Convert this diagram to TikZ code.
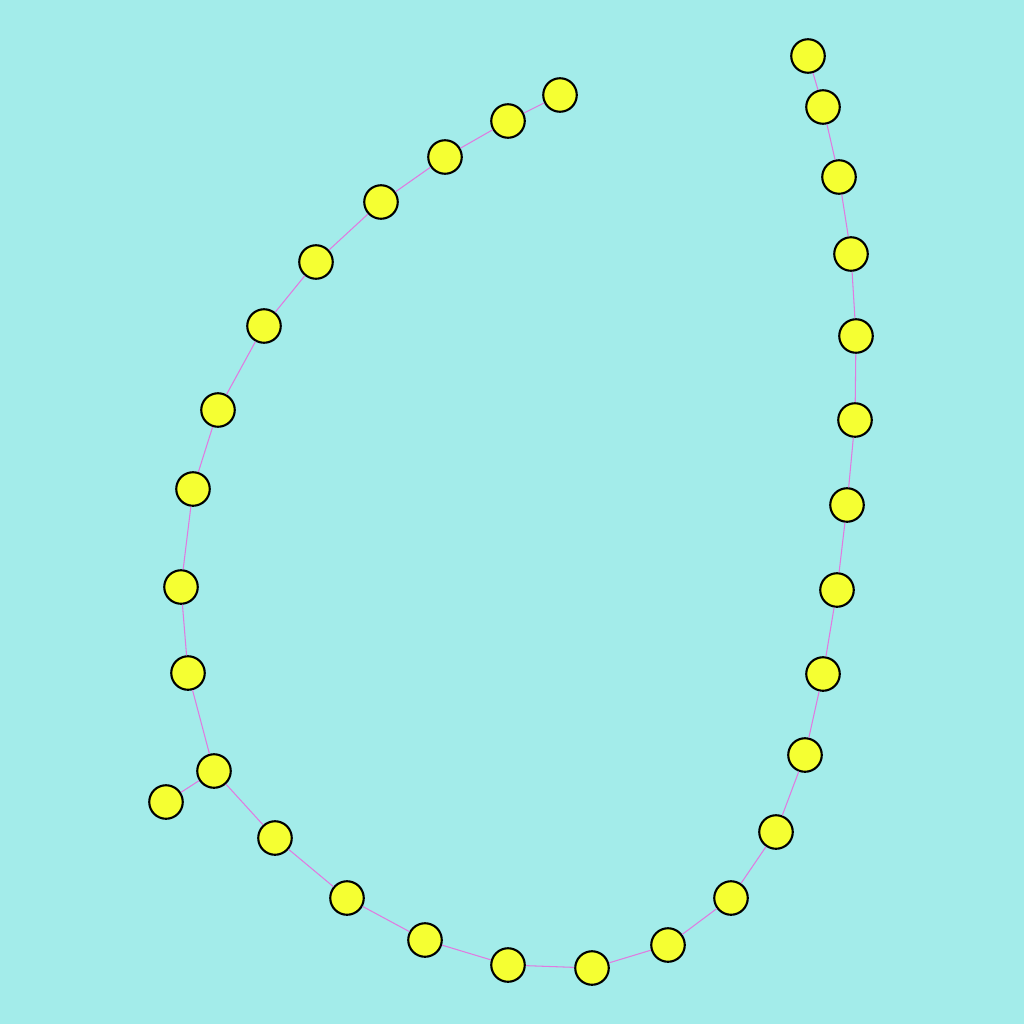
\documentclass[tikz,border=0pt]{standalone}
\usepackage{xcolor}
\definecolor{bgcyan}{HTML}{A3ECEA}
\definecolor{dotyellow}{HTML}{F5FF32}
\definecolor{linkpink}{HTML}{E07AE0}
\tikzset{dot/.style={circle,draw=black,line width=0.6pt,fill=dotyellow,inner sep=0pt,minimum size=0.335cm},
  link/.style={draw=linkpink,line width=0.3pt}}

\begin{document}
\begin{tikzpicture}[x=0.01cm,y=-0.01cm]
\fill[bgcyan] (0,0) rectangle (1024,1024);
\useasboundingbox (0,0) rectangle (1024,1024);
% chain of dots, from the top left end to the top right end
\foreach \i/\x/\y in {1/560/95,2/508/121,3/445/157,4/381/202,5/316/262,6/264/326,
  7/218/410,8/193/489,9/181/587,10/188/673,11/214/771,12/275/838,13/347/898,
  14/425/940,15/508/965,16/592/968,17/668/945,18/731/898,19/776/832,20/805/755,
  21/823/674,22/837/590,23/847/505,24/855/420,25/856/336,26/851/254,27/839/177,
  28/823/107,29/808/56}
  \node[dot] (n\i) at (\x,\y) {};
\node[dot] (nb) at (166,802) {};
\foreach \i [evaluate=\i as \j using int(\i+1)] in {1,...,28}
  \path[link] (n\i) -- (n\j);
\path[link] (n11) -- (nb);
\end{tikzpicture}
\end{document}
